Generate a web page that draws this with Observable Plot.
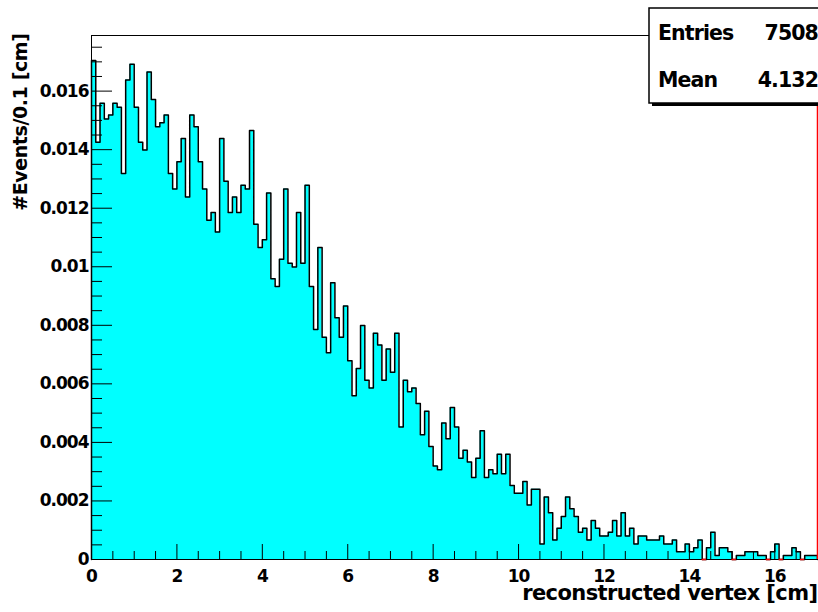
<!DOCTYPE html>
<html><head><meta charset="utf-8">
<script src="https://cdn.jsdelivr.net/npm/d3@7"></script>
<script src="https://cdn.jsdelivr.net/npm/@observablehq/plot@0.6"></script>
<style>
body{margin:0;background:#fff;}
#chart svg{display:block;}
#chart svg text{font-family:"DejaVu Sans",sans-serif;font-weight:bold;}
</style></head><body><div id="chart"></div>
<script>
// ---- data ----
const binWidth = 0.1;          // cm per bin
const xDomain = [0, 17];
const yDomain = [0, 0.0179];
const entries = 7508;          // stats box "Entries"
const meanText = "4.132";      // stats box "Mean"
// events per 0.1 cm bin, bins 0.0-0.1 ... 16.9-17.0
const counts = [
  128,107,117,113,114,117,116, 99,123,127,
  116,107,105,125,118,111,112,114, 99, 95,
  102,108, 93,114,111,102, 95, 87, 89, 84,
  108, 97, 89, 93, 89, 96, 95,110, 86, 80,
   82, 94, 72, 70, 77, 95, 76, 75, 89, 76,
   96, 70, 59, 80, 57, 53, 71, 62, 57, 65,
   51, 42, 49, 60, 46, 44, 58, 55, 46, 54,
   48, 58, 34, 46, 43, 44, 40, 32, 38, 29,
   24, 23, 35, 31, 39, 34, 26, 28, 25, 21,
   26, 33, 21, 23, 22, 27, 22, 27, 19, 17,
   17, 20, 14, 18, 18,  4, 16, 12,  5,  8,
   11, 16, 13, 11,  7,  8,  5, 10,  8,  6,
    6,  7, 10,  6, 12,  6,  8,  4,  6,  6,
    5,  5,  5,  6,  4,  4,  5,  2,  2,  4,
    2,  3,  5,  0,  3,  7,  1,  3,  3,  2,
    0,  1,  1,  2,  2,  2,  1,  1,  0,  2,
    4,  0,  1,  1,  3,  2,  0,  1,  1,  1
];
const xTickLabels = [0, 2, 4, 6, 8, 10, 12, 14, 16];
const xMinorTicks = [0.5,1,1.5,2.5,3,3.5,4.5,5,5.5,6.5,7,7.5,8.5,9,9.5,10.5,11,11.5,12.5,13,13.5,14.5,15,15.5,16.5];
const yTickLabels = [0, 0.002, 0.004, 0.006, 0.008, 0.01, 0.012, 0.014, 0.016];
const yMinorTicks = [0.0005,0.001,0.0015,0.0025,0.003,0.0035,0.0045,0.005,0.0055,0.0065,0.007,0.0075,0.0085,0.009,0.0095,0.0105,0.011,0.0115,0.0125,0.013,0.0135,0.0145,0.015,0.0155,0.0165,0.017,0.0175];
const xTitle = "reconstructed vertex [cm]";
const yTitle = "#Events/0.1 [cm]";

// ---- derived tables ----
const bins = counts.map((c, i) => ({x0: i * binWidth, x1: (i + 1) * binWidth, y: c / entries}));
const outline = [{x: xDomain[0], y: 0}, ...bins.map(b => ({x: b.x0, y: b.y})), {x: xDomain[1], y: 0}];
const zeroBins = bins.filter(b => b.y === 0);

const W = 818, H = 612, mL = 91, mR = 1, mT = 35, mB = 53;
const fw = W - mL - mR, fh = H - mT - mB;

const chart = Plot.plot({
  width: W, height: H,
  marginLeft: mL, marginRight: mR, marginTop: mT, marginBottom: mB,
  x: {domain: xDomain, axis: null},
  y: {domain: yDomain, axis: null},
  marks: [
    Plot.areaY(outline, {x: "x", y: "y", curve: "step-after", fill: "#00ffff"}),
    Plot.line(outline, {x: "x", y: "y", curve: "step-after", stroke: "#000", strokeWidth: 1.5}),
    Plot.frame({stroke: "#000", strokeWidth: 1}),
    // inward ROOT-style ticks
    Plot.tickY(yTickLabels, {y: d => d, insetRight: fw - 21, stroke: "#000"}),
    Plot.tickY(yMinorTicks, {y: d => d, insetRight: fw - 11, stroke: "#000"}),
    Plot.tickX(xTickLabels, {x: d => d, insetTop: fh - 15, stroke: "#000"}),
    Plot.tickX(xMinorTicks, {x: d => d, insetTop: fh - 8, stroke: "#000"}),
    Plot.text(yTickLabels, {x: xDomain[0], y: d => d, text: d => String(d), textAnchor: "end", dx: -3, fontSize: 17}),
    Plot.text(xTickLabels, {x: d => d, y: yDomain[0], text: d => String(d), lineAnchor: "top", dy: 10, fontSize: 17}),
    // red overlay line at the upper edge and zero bins
    Plot.ruleY(zeroBins, {y: () => 0, x1: "x0", x2: "x1", stroke: "#ff0000", strokeWidth: 1.5}),
    Plot.ruleX([xDomain[1]], {x: d => d, y1: yDomain[0], y2: yDomain[1], stroke: "#ff0000", strokeWidth: 1.5}),
    Plot.text([xTitle], {frameAnchor: "bottom-right", dy: 40, textAnchor: "end", fontSize: 21}),
    Plot.text([yTitle], {frameAnchor: "top-left", dx: -78, dy: -2, rotate: -90, textAnchor: "end", fontSize: 19})
  ]
});
document.getElementById("chart").appendChild(chart);

const svg = d3.select(chart);
const tickSet = new Set([...yTickLabels, ...xTickLabels].map(String));
svg.selectAll("text").each(function () {
  const t = this.textContent;
  if (t === xTitle) this.style.letterSpacing = "-0.6px";
  else if (t === yTitle) this.style.letterSpacing = "-0.4px";
  else if (tickSet.has(t)) this.style.letterSpacing = "-1px";
});

// stats box
const box = svg.append("g").attr("aria-label", "stats");
box.append("rect").attr("x", 652).attr("y", 11).attr("width", 180).attr("height", 95).attr("fill", "#000");
box.append("rect").attr("x", 649).attr("y", 8).attr("width", 180).attr("height", 95).attr("fill", "#fff").attr("stroke", "#000").attr("stroke-width", 1.5);
const rows = [["Entries", String(entries), 40], ["Mean", meanText, 87]];
for (const [k, v, yb] of rows) {
  box.append("text").attr("x", 658).attr("y", yb).attr("text-anchor", "start").attr("font-size", 20.5).style("letter-spacing", "-0.9px").text(k);
  box.append("text").attr("x", 818).attr("y", yb).attr("text-anchor", "end").attr("font-size", 20.5).style("letter-spacing", "-0.9px").text(v);
}
</script>
</body></html>
